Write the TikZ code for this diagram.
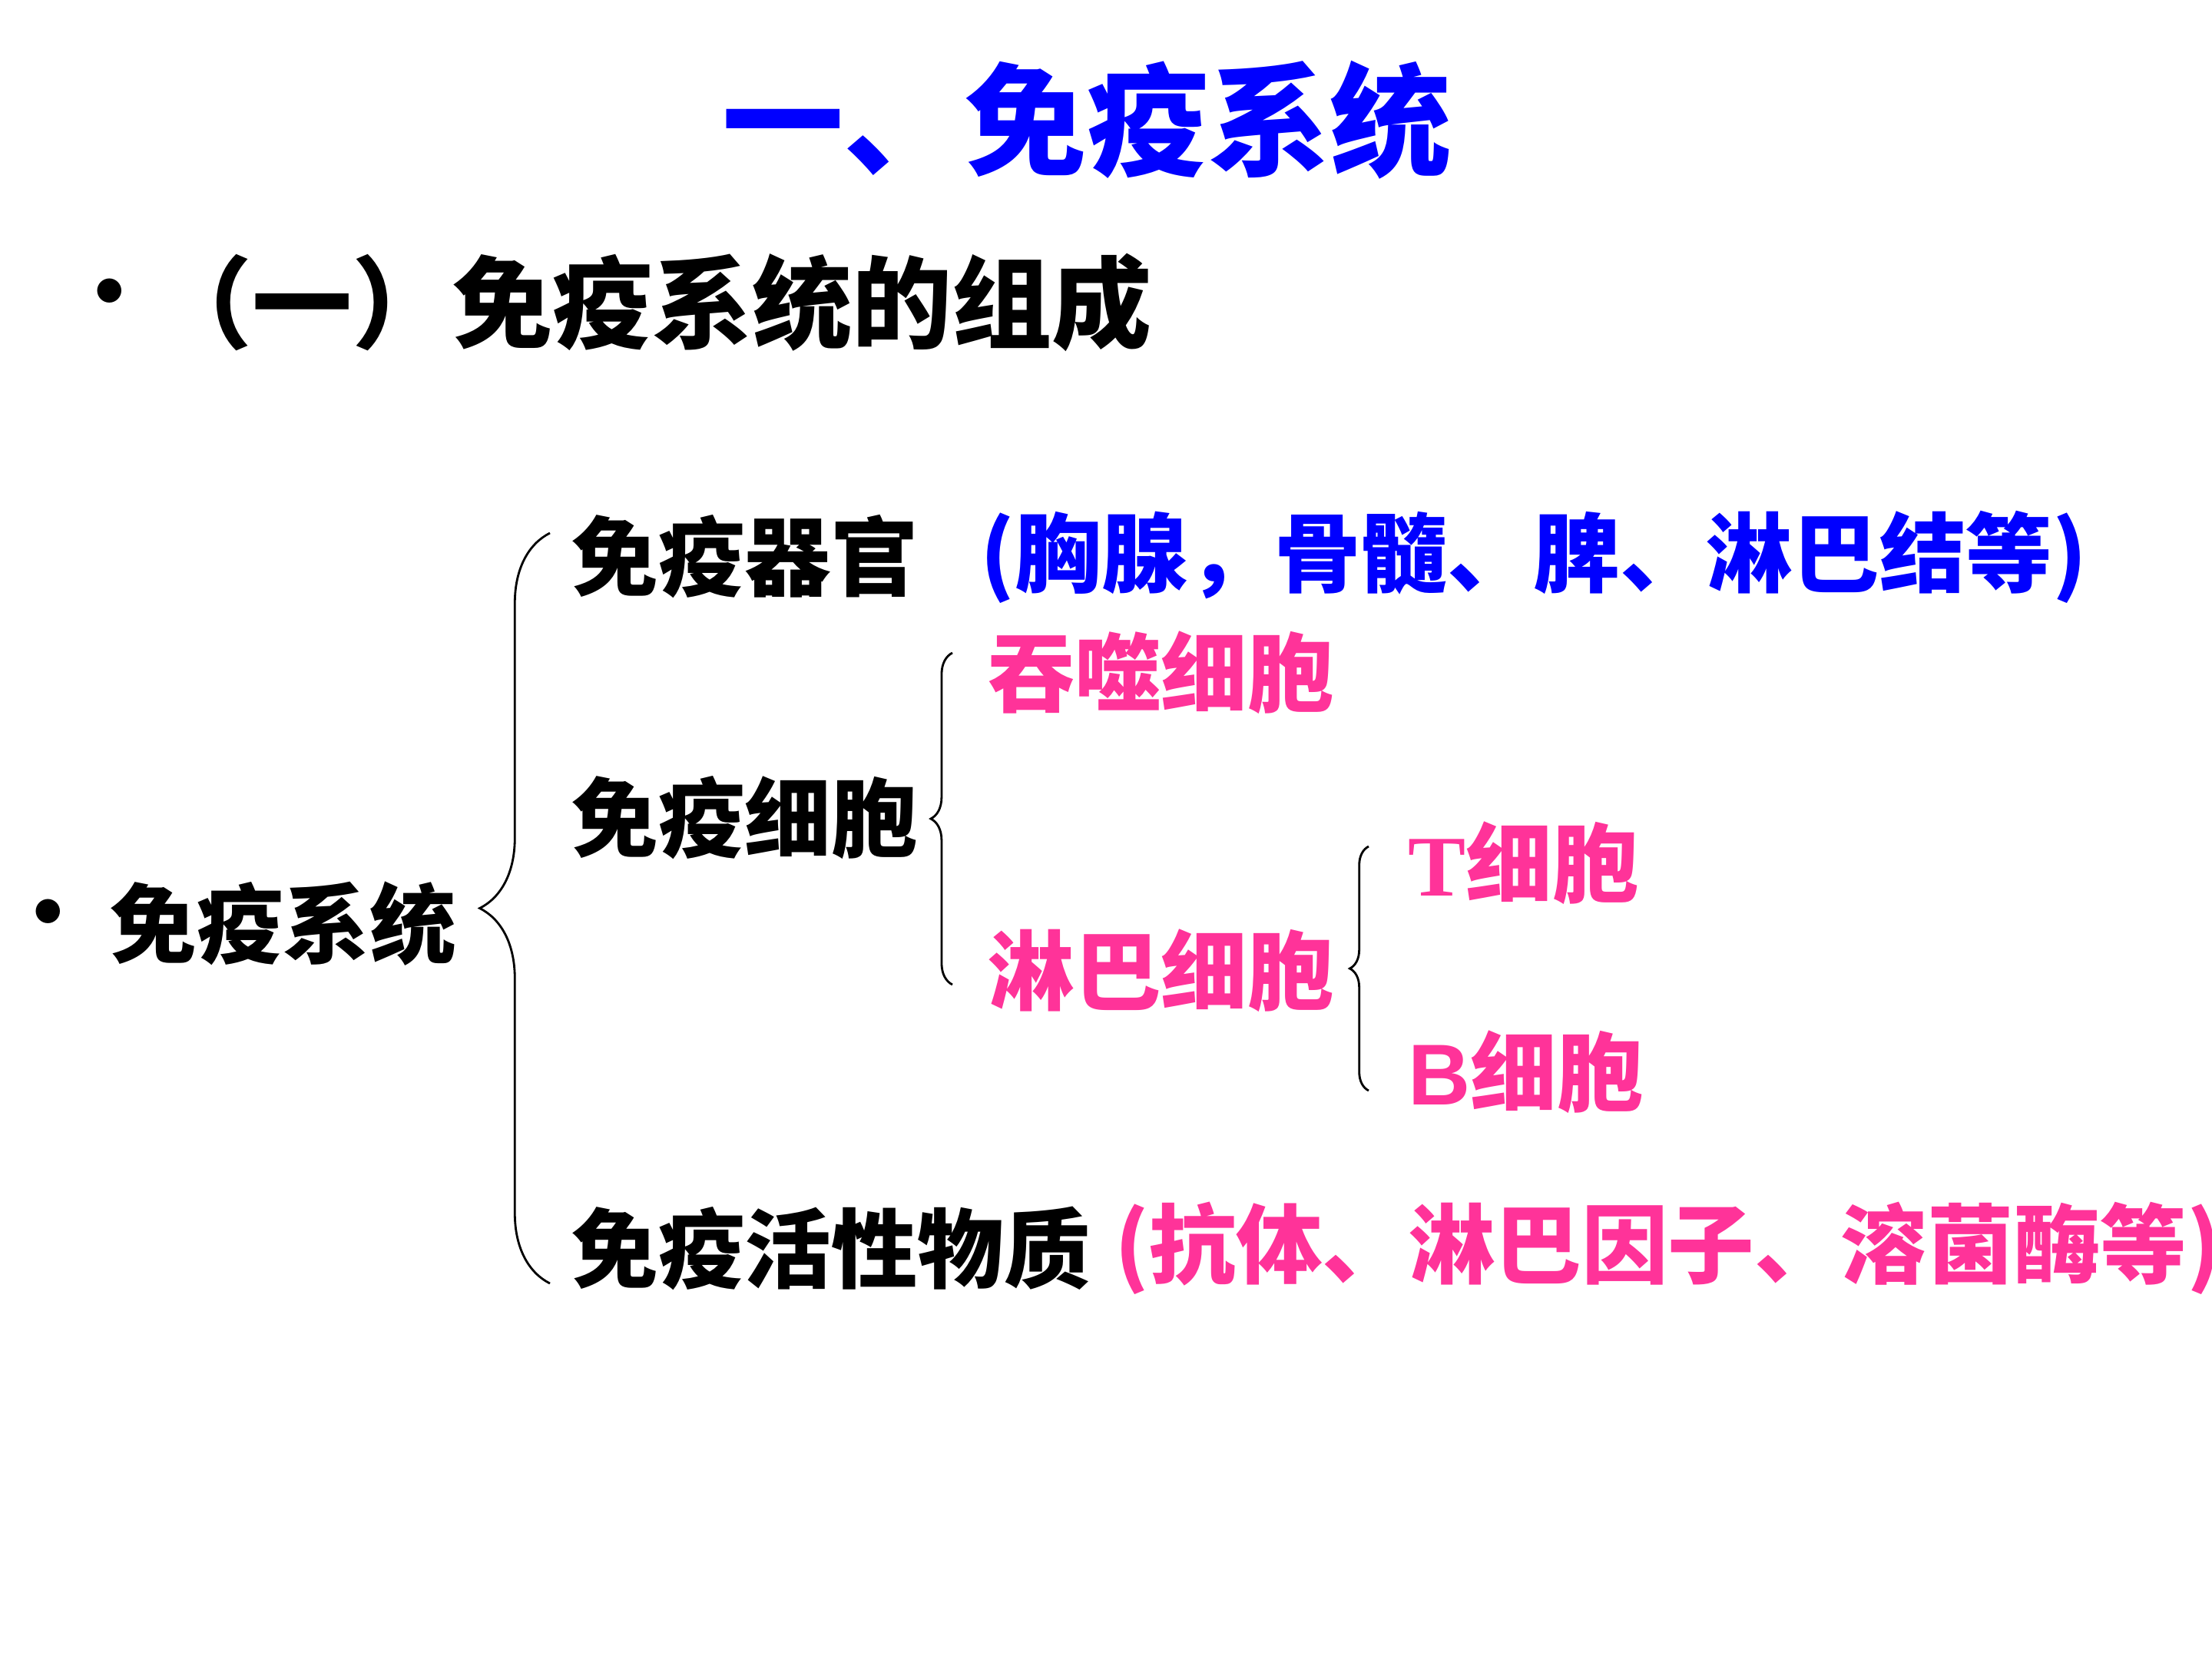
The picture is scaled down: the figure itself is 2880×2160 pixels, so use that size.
\documentclass[tikz,border=0pt]{standalone}
\usepackage{fontspec}
\setmainfont{Noto Sans CJK SC}
\newfontfamily\tfont{Liberation Serif}
\newfontfamily\bfont{Liberation Sans}
\usetikzlibrary{decorations.pathreplacing}
\definecolor{titleblue}{RGB}{0,0,255}
\definecolor{cellpink}{RGB}{255,51,153}
\tikzset{
  lbl/.style={anchor=west,inner sep=0pt,font=\fontsize{32}{36}\selectfont\bfseries},
  brc/.style={decorate,line width=.8pt},
}

\begin{document}
\begin{tikzpicture}[x=0.01cm,y=-0.01cm]
  \useasboundingbox (0,0) rectangle (2880,2160);
  % heading
  \node[inner sep=0pt,text=titleblue,font=\fontsize{45}{50}\selectfont\bfseries] (title) at (1415,156) {一、免疫系统};
  \node[lbl] (dot1) at (86,392) {•};
  \node[lbl,font=\fontsize{37}{42}\selectfont\bfseries] (part) at (198,394) {（一）免疫系统的组成};
  % first level
  \node[lbl] (dot2) at (6,1200) {•};
  \node[lbl] (sys) at (143,1203) {免疫系统};
  \coordinate (b1top) at (716,694);
  \coordinate (b1bot) at (716,1671);
  \draw[brc,decoration={brace,amplitude=26pt}] (b1bot) -- (b1top);
  \node[lbl] (organ) at (744,725) {免疫器官};
  \node[lbl,text=titleblue] (organlist) at (1276,725) {(胸腺，骨髓、脾、淋巴结等)};
  \node[lbl] (cell) at (744,1065) {免疫细胞};
  \node[lbl] (active) at (744,1625) {免疫活性物质};
  \node[lbl,text=cellpink] (activelist) at (1451,1625) {(抗体、淋巴因子、溶菌酶等)};
  % cells
  \coordinate (b2top) at (1240,850);
  \coordinate (b2bot) at (1240,1282);
  \draw[brc,decoration={brace,amplitude=8pt}] (b2bot) -- (b2top);
  \node[lbl,text=cellpink] (phago) at (1286,876) {吞噬细胞};
  \node[lbl,text=cellpink] (lymph) at (1286,1264) {淋巴细胞};
  % lymphocytes
  \coordinate (b3top) at (1782,1102);
  \coordinate (b3bot) at (1782,1420);
  \draw[brc,decoration={brace,amplitude=7pt}] (b3bot) -- (b3top);
  \node[lbl,text=cellpink] (tcell) at (1833,1124) {{\tfont T}细胞};
  \node[lbl,text=cellpink] (bcell) at (1833,1396) {{\bfont B}细胞};
\end{tikzpicture}
\end{document}
